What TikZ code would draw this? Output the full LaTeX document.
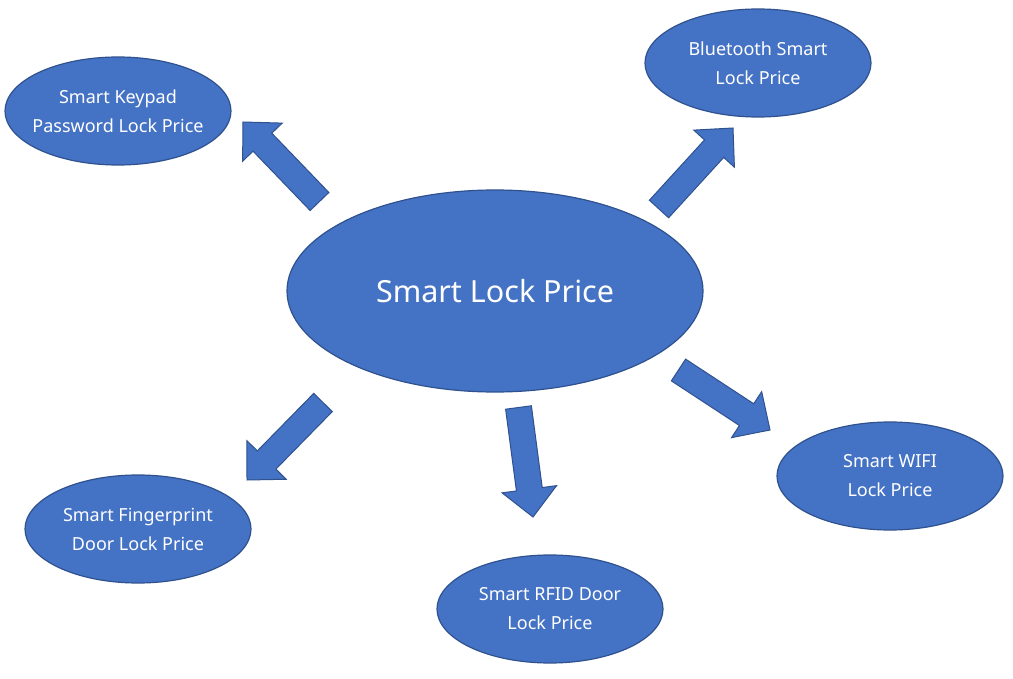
\documentclass[tikz,border=0pt]{standalone}
\usepackage{fontspec}
\setmainfont{Noto Sans}
\usepackage{xcolor}
\usepackage{tikz}
\usetikzlibrary{shapes.geometric, arrows, positioning, calc}
\definecolor{lockblue}{HTML}{4472C4}
\definecolor{lockedge}{HTML}{2F528F}
\tikzstyle{hub} = [ellipse, minimum width=416pt, minimum height=202pt, inner sep=0pt, text centered, draw=lockedge, line width=1.2pt, fill=lockblue, text=white, font=\fontsize{30.5}{36}\selectfont]
\tikzstyle{leaf} = [ellipse, minimum width=226pt, minimum height=108pt, inner xsep=-14pt, inner ysep=0pt, align=center, draw=lockedge, line width=1.2pt, fill=lockblue, text=white, font=\fontsize{18}{29}\selectfont]
\tikzstyle{blockarrow} = [draw=lockedge, line width=1pt, fill=lockblue, line join=miter]
\newcommand{\blockarrow}[2]{%
  \coordinate (hb) at ($(#2)!28pt!(#1)$);
  \draw [blockarrow] ($(#1)!13pt!90:(#2)$) -- ($(hb)!13pt!90:(#2)$) -- ($(hb)!27.5pt!90:(#2)$) -- (#2)
    -- ($(hb)!27.5pt!-90:(#2)$) -- ($(hb)!13pt!-90:(#2)$) -- ($(#1)!13pt!-90:(#2)$) -- cycle;}

\begin{document}
\begin{tikzpicture}[x=1pt, y=1pt, node distance=250pt]

\useasboundingbox [fill=white] (0,0) rectangle (1013,-679);

\node (main) [hub] at (495,-291) {Smart Lock Price};
\node (keypad) [leaf, left of=main, xshift=-127pt, yshift=180pt] {Smart Keypad\\Password Lock Price};
\node (bluetooth) [leaf, right of=main, xshift=13pt, yshift=228pt] {Bluetooth Smart\\Lock Price};
\node (wifi) [leaf, right of=main, xshift=145pt, yshift=-185pt] {Smart WIFI\\Lock Price};
\node (fingerprint) [leaf, left of=main, xshift=-107pt, yshift=-238pt] {Smart Fingerprint\\Door Lock Price};
\node (rfid) [leaf, below of=main, xshift=55pt, yshift=-68pt] {Smart RFID Door\\Lock Price};

% arrow ends
\coordinate (keypadtail) at (319.5,-201.5);
\coordinate (keypadtip) at (243,-122);
\coordinate (bluetoothtail) at (659,-209);
\coordinate (bluetoothtip) at (733,-128);
\coordinate (wifitail) at (678.5,-370);
\coordinate (wifitip) at (770,-430);
\coordinate (fingerprinttail) at (323,-402.5);
\coordinate (fingerprinttip) at (247,-480);
\coordinate (rfidtail) at (518.5,-407.5);
\coordinate (rfidtip) at (533,-517);

\blockarrow{keypadtail}{keypadtip}
\blockarrow{bluetoothtail}{bluetoothtip}
\blockarrow{wifitail}{wifitip}
\blockarrow{fingerprinttail}{fingerprinttip}
\blockarrow{rfidtail}{rfidtip}

\end{tikzpicture}
\end{document}
